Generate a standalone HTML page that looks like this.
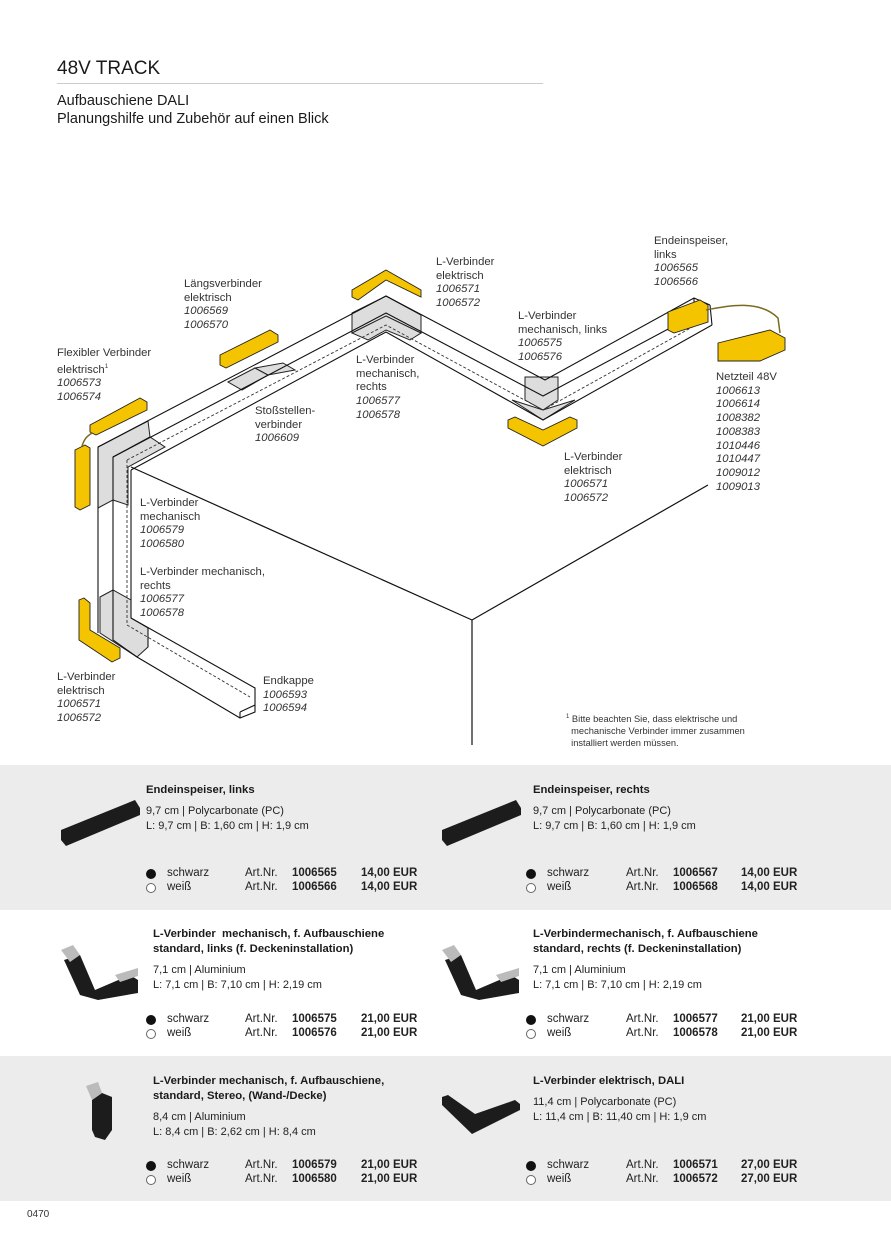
<!DOCTYPE html>
<html><head><meta charset="utf-8">
<style>
*{margin:0;padding:0;box-sizing:border-box}
body{width:891px;height:1250px;position:relative;background:#fff;font-family:"Liberation Sans",sans-serif;color:#1a1a1a;overflow:hidden}
.a{position:absolute;white-space:nowrap}
.lb{position:absolute;font-size:11.3px;line-height:13.7px;color:#333;white-space:nowrap}
.lb i{font-style:italic}
.band{position:absolute;left:0;width:891px;background:#ececec}
.t{position:absolute;font-size:11.3px;line-height:15px;font-weight:bold;white-space:nowrap}
.s{position:absolute;font-size:11px;line-height:15px;white-space:nowrap;color:#222}
.dot{position:absolute;width:10px;height:10px;border-radius:50%;background:#111}
.dot.w{background:#fff;border:1px solid #666}
</style></head><body>
<div class="a" style="left:57px;top:58px;font-size:19px">48V TRACK</div>
<div class="a" style="left:57px;top:83px;width:486px;height:1px;background:#ccc"></div>
<div class="a" style="left:57px;top:92px;font-size:14.5px;line-height:18px">Aufbauschiene DALI<br>Planungshilfe und Zubehör auf einen Blick</div>

<svg class="a" style="left:0;top:0" width="891" height="765" viewBox="0 0 891 765">
<g fill="none" stroke="#111" stroke-width="1.2">
<path d="M131 467 L472 620 L708 485 M472 620 L472 745"/>
</g>
<g fill="#ddd" stroke="#222" stroke-width="1">
<path d="M98 447 L148 421 L150 437 L113 457 L113 500 L98 508Z"/>
<path d="M113 457 L150 437 L165 447 L128 467 L128 505 L113 500Z"/>
<path d="M352 313 L386 296 L421 315 L421 333 L386 316 L352 333Z"/>
<path d="M352 333 L386 316 L421 333 L410 340 L386 330 L368 340Z"/>
<path d="M525 377 L558 377 L558 400 L543 410 L525 400Z"/>
<path d="M512 400 L543 410 L575 400 L543 420Z"/>
<path d="M100 597 L113 590 L131 600 L131 618 L148 628 L148 647 L137 657 L100 633Z"/>
<path d="M228 382 L255 368 L268 375 L242 390Z"/>
<path d="M255 368 L283 363 L295 370 L268 375Z"/>
</g>
<g fill="none" stroke="#111" stroke-width="1.1">
<path d="M98 447 L386 296 L545 380 L694 298 L710 305"/>
<path d="M113 457 L386 313 L543 396 L700 312"/>
<path d="M131 470 L386 332 L543 420 L712 325"/>
<path d="M694 298 L694 305 M710 305 L712 325"/>
<path d="M98 447 L98 633 M113 457 L113 590 M131 470 L131 618"/>
<path d="M113 590 L113 640 L137 657"/>
<path d="M131 618 L255 688 L255 712 L240 718 L137 657 M240 712 L255 705 M240 712 L240 718"/>
<path d="M148 628 L148 647"/>
</g>
<g fill="none" stroke="#333" stroke-width="0.9" stroke-dasharray="3,2">
<path d="M127 460 L386 325 L543 410 L705 320"/>
<path d="M127 460 L127 625 L250 697"/>
</g>
<g fill="#f5c400" stroke="#222" stroke-width="0.9">
<path d="M352 290 L386 270 L421 290 L421 297 L386 280 L358 300 L352 297Z"/>
<path d="M220 355 L270 330 L278 335 L278 342 L226 368 L220 365Z"/>
<path d="M90 425 L140 398 L147 402 L147 410 L96 435 L90 432Z"/>
<path d="M75 450 L85 445 L90 448 L90 505 L80 510 L75 507Z"/>
<path d="M79 600 L84 598 L90 603 L90 630 L120 648 L120 658 L112 662 L79 640Z"/>
<path d="M508 420 L515 417 L543 430 L570 417 L577 420 L577 428 L543 446 L508 428Z"/>
<path d="M668 312 L700 300 L708 305 L708 322 L674 333 L668 330Z"/>
<path d="M718 343 L770 330 L785 338 L785 350 L760 361 L718 361Z"/>
</g>
<path d="M82 446 C85 437 88 436 92 433" stroke="#7a6a20" fill="none" stroke-width="1.5"/>
<path d="M706 310 C730 305 760 300 778 318 L780 333" stroke="#7a6a20" fill="none" stroke-width="1.5"/>
</svg>

<div class="lb" style="left:184px;top:278px">Längsverbinder<br>elektrisch<br><i>1006569<br>1006570</i></div>
<div class="lb" style="left:436px;top:256px">L-Verbinder<br>elektrisch<br><i>1006571<br>1006572</i></div>
<div class="lb" style="left:654px;top:235px">Endeinspeiser,<br>links<br><i>1006565<br>1006566</i></div>
<div class="lb" style="left:518px;top:310px">L-Verbinder<br>mechanisch, links<br><i>1006575<br>1006576</i></div>
<div class="lb" style="left:57px;top:347px">Flexibler Verbinder<br>elektrisch<sup style="font-size:6px">1</sup><br><i>1006573<br>1006574</i></div>
<div class="lb" style="left:356px;top:354px">L-Verbinder<br>mechanisch,<br>rechts<br><i>1006577<br>1006578</i></div>
<div class="lb" style="left:716px;top:371px">Netzteil 48V<br><i>1006613<br>1006614<br>1008382<br>1008383<br>1010446<br>1010447<br>1009012<br>1009013</i></div>
<div class="lb" style="left:255px;top:405px">Stoßstellen-<br>verbinder<br><i>1006609</i></div>
<div class="lb" style="left:564px;top:451px">L-Verbinder<br>elektrisch<br><i>1006571<br>1006572</i></div>
<div class="lb" style="left:140px;top:497px">L-Verbinder<br>mechanisch<br><i>1006579<br>1006580</i></div>
<div class="lb" style="left:140px;top:566px">L-Verbinder mechanisch,<br>rechts<br><i>1006577<br>1006578</i></div>
<div class="lb" style="left:57px;top:671px">L-Verbinder<br>elektrisch<br><i>1006571<br>1006572</i></div>
<div class="lb" style="left:263px;top:675px">Endkappe<br><i>1006593<br>1006594</i></div>
<div class="a" style="left:566px;top:711px;font-size:9.3px;line-height:12px;color:#333"><sup style="font-size:6px">1</sup> Bitte beachten Sie, dass elektrische und<br>&nbsp;&nbsp;mechanische Verbinder immer zusammen<br>&nbsp;&nbsp;installiert werden müssen.</div>

<div class="band" style="top:765px;height:145px"></div>
<div class="band" style="top:1056px;height:145px"></div>

<svg class="a" style="left:0;top:765px" width="891" height="436" viewBox="0 765 891 436">
<g fill="#1c1c1c">
<path d="M61 830 L135 800 L140 808 L140 815 L66 846 L61 840Z"/>
<path d="M442 830 L516 800 L521 808 L521 815 L447 846 L442 840Z"/>
<path d="M64 960 L80 955 L95 990 L130 975 L138 980 L138 993 L98 1000 L80 995Z"/>
<path d="M445 960 L461 955 L476 990 L511 975 L519 980 L519 993 L479 1000 L461 995Z"/>
<path d="M92 1100 L102 1093 L112 1097 L112 1130 L105 1140 L95 1137 L92 1130Z"/>
<path d="M442 1097 L448 1095 L475 1114 L515 1100 L520 1104 L520 1110 L472 1134 L442 1105Z"/>
</g>
<g fill="#bbb">
<path d="M61 950 L73 945 L80 955 L70 962Z"/><path d="M115 975 L138 968 L138 976 L120 982Z"/>
<path d="M442 950 L454 945 L461 955 L451 962Z"/><path d="M496 975 L519 968 L519 976 L501 982Z"/>
<path d="M86 1086 L98 1082 L102 1093 L92 1100Z"/>
</g>
</svg>

<div class="t" style="left:146px;top:783px">Endeinspeiser, links</div>
<div class="s" style="left:146px;top:804px">9,7 cm | Polycarbonate (PC)<br>L: 9,7 cm | B: 1,60 cm | H: 1,9 cm</div>
<div class="t" style="left:533px;top:783px">Endeinspeiser, rechts</div>
<div class="s" style="left:533px;top:804px">9,7 cm | Polycarbonate (PC)<br>L: 9,7 cm | B: 1,60 cm | H: 1,9 cm</div>
<div class="t" style="left:153px;top:927px">L-Verbinder&nbsp; mechanisch, f. Aufbauschiene<br>standard, links (f. Deckeninstallation)</div>
<div class="s" style="left:153px;top:963px">7,1 cm | Aluminium<br>L: 7,1 cm | B: 7,10 cm | H: 2,19 cm</div>
<div class="t" style="left:533px;top:927px">L-Verbindermechanisch, f. Aufbauschiene<br>standard, rechts (f. Deckeninstallation)</div>
<div class="s" style="left:533px;top:963px">7,1 cm | Aluminium<br>L: 7,1 cm | B: 7,10 cm | H: 2,19 cm</div>
<div class="t" style="left:153px;top:1074px">L-Verbinder mechanisch, f. Aufbauschiene,<br>standard, Stereo, (Wand-/Decke)</div>
<div class="s" style="left:153px;top:1110px">8,4 cm | Aluminium<br>L: 8,4 cm | B: 2,62 cm | H: 8,4 cm</div>
<div class="t" style="left:533px;top:1074px">L-Verbinder elektrisch, DALI</div>
<div class="s" style="left:533px;top:1095px">11,4 cm | Polycarbonate (PC)<br>L: 11,4 cm | B: 11,40 cm | H: 1,9 cm</div>

<div style="position:absolute;left:0;top:0">
<div class="dot" style="left:146px;top:869px"></div><div class="dot w" style="left:146px;top:883px"></div>
<div class="s" style="left:167px;top:866px;font-size:11.5px;line-height:14px">schwarz<br>weiß</div>
<div class="s" style="left:245px;top:866px;font-size:11.5px;line-height:14px">Art.Nr.<br>Art.Nr.</div>
<div class="s" style="left:292px;top:866px;font-size:11.5px;line-height:14px;font-weight:bold">1006565<br>1006566</div>
<div class="s" style="left:361px;top:866px;font-size:11.5px;line-height:14px;font-weight:bold">14,00 EUR<br>14,00 EUR</div>
<div class="dot" style="left:526px;top:869px"></div><div class="dot w" style="left:526px;top:883px"></div>
<div class="s" style="left:547px;top:866px;font-size:11.5px;line-height:14px">schwarz<br>weiß</div>
<div class="s" style="left:626px;top:866px;font-size:11.5px;line-height:14px">Art.Nr.<br>Art.Nr.</div>
<div class="s" style="left:673px;top:866px;font-size:11.5px;line-height:14px;font-weight:bold">1006567<br>1006568</div>
<div class="s" style="left:741px;top:866px;font-size:11.5px;line-height:14px;font-weight:bold">14,00 EUR<br>14,00 EUR</div>

<div class="dot" style="left:146px;top:1015px"></div><div class="dot w" style="left:146px;top:1029px"></div>
<div class="s" style="left:167px;top:1012px;font-size:11.5px;line-height:14px">schwarz<br>weiß</div>
<div class="s" style="left:245px;top:1012px;font-size:11.5px;line-height:14px">Art.Nr.<br>Art.Nr.</div>
<div class="s" style="left:292px;top:1012px;font-size:11.5px;line-height:14px;font-weight:bold">1006575<br>1006576</div>
<div class="s" style="left:361px;top:1012px;font-size:11.5px;line-height:14px;font-weight:bold">21,00 EUR<br>21,00 EUR</div>
<div class="dot" style="left:526px;top:1015px"></div><div class="dot w" style="left:526px;top:1029px"></div>
<div class="s" style="left:547px;top:1012px;font-size:11.5px;line-height:14px">schwarz<br>weiß</div>
<div class="s" style="left:626px;top:1012px;font-size:11.5px;line-height:14px">Art.Nr.<br>Art.Nr.</div>
<div class="s" style="left:673px;top:1012px;font-size:11.5px;line-height:14px;font-weight:bold">1006577<br>1006578</div>
<div class="s" style="left:741px;top:1012px;font-size:11.5px;line-height:14px;font-weight:bold">21,00 EUR<br>21,00 EUR</div>

<div class="dot" style="left:146px;top:1161px"></div><div class="dot w" style="left:146px;top:1175px"></div>
<div class="s" style="left:167px;top:1158px;font-size:11.5px;line-height:14px">schwarz<br>weiß</div>
<div class="s" style="left:245px;top:1158px;font-size:11.5px;line-height:14px">Art.Nr.<br>Art.Nr.</div>
<div class="s" style="left:292px;top:1158px;font-size:11.5px;line-height:14px;font-weight:bold">1006579<br>1006580</div>
<div class="s" style="left:361px;top:1158px;font-size:11.5px;line-height:14px;font-weight:bold">21,00 EUR<br>21,00 EUR</div>
<div class="dot" style="left:526px;top:1161px"></div><div class="dot w" style="left:526px;top:1175px"></div>
<div class="s" style="left:547px;top:1158px;font-size:11.5px;line-height:14px">schwarz<br>weiß</div>
<div class="s" style="left:626px;top:1158px;font-size:11.5px;line-height:14px">Art.Nr.<br>Art.Nr.</div>
<div class="s" style="left:673px;top:1158px;font-size:11.5px;line-height:14px;font-weight:bold">1006571<br>1006572</div>
<div class="s" style="left:741px;top:1158px;font-size:11.5px;line-height:14px;font-weight:bold">27,00 EUR<br>27,00 EUR</div>
</div>

<div class="a" style="left:27px;top:1209px;font-size:10px;color:#333">0470</div>
</body></html>
